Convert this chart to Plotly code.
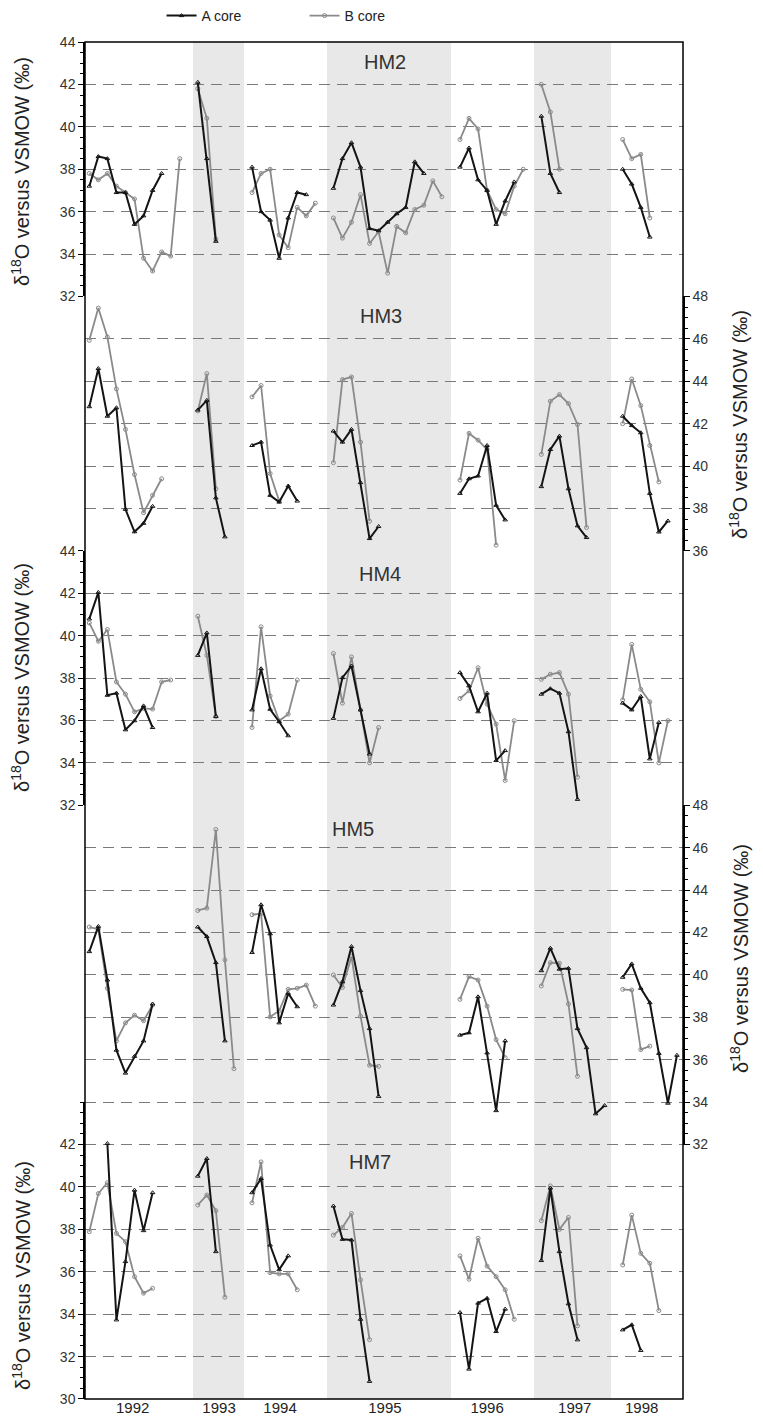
import plotly.graph_objects as go

# ---------------- data ----------------
YEARS = ["1992", "1993", "1994", "1995", "1996", "1997", "1998"]
YEAR_START = [0, 12, 18, 27, 41, 50, 59]          # first sample index of each year
YEAR_LABEL_POS = [4.8, 14.35, 21.1, 32.7, 44.0, 53.7, 61.1]
SHADED_YEARS = [(11.47, 17.11), (26.29, 40.01), (49.19, 57.71)]

HM2_A = [[37.2, 38.6, 38.5, 36.9, 36.9, 35.4, 35.8, 37.0, 37.8],
         [42.1, 38.5, 34.6],
         [38.1, 36.0, 35.6, 33.8, 35.7, 36.9, 36.8],
         [37.1, 38.5, 39.25, 38.1, 35.2, 35.1, 35.5, 35.9, 36.2, 38.35, 37.8],
         [38.1, 39.0, 37.5, 37.0, 35.4, 36.5, 37.4],
         [40.5, 37.8, 36.9],
         [38.0, 37.3, 36.2, 34.8]]
HM2_B = [[37.8, 37.5, 37.8, 37.2, 36.9, 36.6, 33.8, 33.2, 34.1, 33.9, 38.5],
         [41.8, 40.4, 34.7],
         [36.9, 37.8, 38.0, 34.9, 34.3, 36.2, 35.8, 36.4],
         [35.7, 34.75, 35.5, 36.8, 34.5, 35.05, 33.1, 35.3, 35.0, 36.1, 36.3, 37.45, 36.7],
         [39.4, 40.4, 39.9, 37.0, 36.1, 35.9, 37.2, 38.0],
         [42.0, 40.7, 38.0],
         [39.4, 38.5, 38.7, 35.7]]

HM3_A = [[42.8, 44.6, 42.35, 42.75, 37.96, 36.9, 37.3, 38.1],
         [42.64, 43.1, 38.5, 36.66],
         [40.97, 41.13, 38.62, 38.3, 39.06, 38.35],
         [41.65, 41.13, 41.73, 39.22, 36.58, 37.15],
         [38.71, 39.4, 39.53, 40.97, 38.15, 37.46],
         [39.03, 40.78, 41.41, 38.93, 37.18, 36.63],
         [42.35, 41.91, 41.57, 38.71, 36.89, 37.41]]
HM3_B = [[45.93, 47.45, 46.09, 43.64, 41.73, 39.6, 37.8, 38.62, 39.4],
         [42.6, 44.36, 38.93],
         [43.26, 43.8, 39.65, 38.35],
         [40.16, 44.08, 44.2, 41.13, 37.4],
         [39.34, 41.54, 41.22, 40.78, 36.27],
         [40.55, 43.06, 43.37, 42.95, 41.96, 37.1],
         [42.0, 44.11, 42.85, 40.97, 39.25]]

HM4_A = [[40.79, 42.04, 37.19, 37.29, 35.56, 35.99, 36.69, 35.67],
         [39.07, 40.13, 36.19],
         [36.5, 38.44, 36.53, 35.94, 35.28],
         [36.1, 38.02, 38.57, 36.5, 34.42],
         [38.26, 37.63, 36.41, 37.29, 34.11, 34.58],
         [37.24, 37.5, 37.29, 35.47, 32.28],
         [36.82, 36.5, 37.13, 34.19, 35.91]]
HM4_B = [[40.6, 39.74, 40.29, 37.82, 37.24, 36.41, 36.57, 36.54, 37.82, 37.91],
         [40.92, 39.07, 36.19],
         [35.67, 40.42, 37.16, 35.99, 36.3, 37.91],
         [39.16, 36.82, 39.0, 36.5, 34.0, 35.67],
         [37.04, 37.4, 38.49, 36.77, 35.83, 33.17, 35.99],
         [37.94, 38.18, 38.26, 37.24, 33.33],
         [36.97, 39.59, 37.47, 36.88, 34.0, 35.99]]

HM5_A = [[41.1, 42.29, 39.76, 36.45, 35.37, 36.16, 36.89, 38.63],
         [42.26, 41.81, 40.58, 36.89],
         [41.06, 43.31, 41.94, 37.74, 39.13, 38.5],
         [38.58, 39.68, 41.34, 39.26, 37.47, 34.27],
         [37.16, 37.27, 38.97, 36.32, 33.6, 36.89],
         [40.2, 41.26, 40.27, 40.31, 37.47, 36.57, 33.45, 33.84],
         [39.89, 40.52, 39.37, 38.69, 36.3, 33.95, 36.21]]
HM5_B = [[42.26, 42.16, 39.37, 36.89, 37.74, 38.1, 37.84, 38.58],
         [43.04, 43.15, 46.86, 40.71, 35.58],
         [42.84, 42.89, 38.02, 38.31, 39.32, 39.37, 39.52, 38.53],
         [40.0, 39.41, 40.87, 38.06, 35.74, 35.69],
         [38.85, 39.92, 39.76, 38.53, 36.95, 36.1],
         [39.48, 40.58, 40.55, 38.63, 35.22],
         [39.32, 39.29, 36.48, 36.64]]

HM7_A = [[None, None, 42.05, 33.73, 36.48, 39.85, 37.94, 39.73],
         [40.51, 41.34, 36.95],
         [39.73, 40.4, 37.26, 36.1, 36.75],
         [39.1, 37.53, 37.5, 33.76, 30.83],
         [34.08, 31.41, 34.52, 34.75, 33.18, 34.24],
         [36.53, 39.95, 36.95, 34.49, 32.79],
         [33.26, 33.5, 32.29]]
HM7_B = [[37.89, 39.69, 40.2, 37.81, 37.42, 35.77, 34.99, 35.22],
         [39.15, 39.62, 38.88, 34.8],
         [39.25, 41.18, 35.96, 35.9, 35.9, 35.15],
         [37.73, 38.09, 38.75, 35.62, 32.8],
         [36.75, 35.65, 37.58, 36.27, 35.77, 35.15, 33.76],
         [38.41, 40.05, 38.0, 38.56, 33.45],
         [36.32, 38.67, 36.87, 36.4, 34.17]]

PANEL_NAMES = ["HM2", "HM3", "HM4", "HM5", "HM7"]
PANEL_A = [HM2_A, HM3_A, HM4_A, HM5_A, HM7_A]
PANEL_B = [HM2_B, HM3_B, HM4_B, HM5_B, HM7_B]

# ---------------- helpers ----------------
def flatten(segments):
    xs, ys = [], []
    for start, seg in zip(YEAR_START, segments):
        for j, v in enumerate(seg):
            xs.append(start + j)
            ys.append(v)
        xs.append(None)
        ys.append(None)
    return xs, ys

FONT = "Liberation Sans, Arial, sans-serif"
A_COLOR = "#141414"
B_COLOR = "#8a8a8a"

fig = go.Figure()
axis_ids = ["y", "y2", "y3", "y4", "y5"]

for i, name in enumerate(PANEL_NAMES):
    xb, yb = flatten(PANEL_B[i])
    xa, ya = flatten(PANEL_A[i])
    fig.add_trace(go.Scatter(
        x=xb, y=yb, yaxis=axis_ids[i], xaxis="x", mode="lines+markers",
        name="B core", legendgroup="B", showlegend=(i == 0), legendrank=2,
        line=dict(color=B_COLOR, width=1.8),
        marker=dict(symbol="circle-open", size=4, color=B_COLOR, line=dict(width=1)),
        connectgaps=False, hoverinfo="skip"))
    fig.add_trace(go.Scatter(
        x=xa, y=ya, yaxis=axis_ids[i], xaxis="x", mode="lines+markers",
        name="A core", legendgroup="A", showlegend=(i == 0), legendrank=1,
        line=dict(color=A_COLOR, width=2),
        marker=dict(symbol="triangle-up-open", size=4, color=A_COLOR, line=dict(width=1)),
        connectgaps=False, hoverinfo="skip"))

GRID_DASH = "11px,7px"

def yax(domain, rng, tickvals, side):
    return dict(
        domain=domain, range=rng, anchor="x", side=side, automargin=False,
        tickmode="array", tickvals=tickvals, ticktext=[str(v) for v in tickvals],
        ticks="outside", ticklen=5, tickwidth=1, tickcolor="black",
        minor=dict(dtick=0.5, tick0=0, ticks="outside", ticklen=3,
                   tickcolor="black", tickwidth=1, showgrid=False),
        showgrid=True, gridcolor="#7a7a7a", griddash=GRID_DASH, gridwidth=1,
        showline=True, linecolor="black", linewidth=1.5,
        zeroline=False, fixedrange=True,
        tickfont=dict(family=FONT, size=14, color="#333"))

N = 32.0
PLOT_H = 1357.0
FIG_H = 1412
fig.update_layout(
    width=755, height=FIG_H,
    margin=dict(l=77, r=80, t=34, b=21),
    paper_bgcolor="white", plot_bgcolor="rgba(0,0,0,0)",
    font=dict(family=FONT, color="#222"),
    xaxis=dict(domain=[0, 1], range=[-0.476, 65.67], anchor="y5", automargin=False,
               tickmode="array", tickvals=YEAR_LABEL_POS, ticktext=YEARS,
               ticks="", showgrid=False, showline=False, zeroline=False,
               ticklabelstandoff=-2,
               fixedrange=True, tickfont=dict(family=FONT, size=15, color="#222")),
    yaxis=yax([26 / N, 1.0], [32, 44], [32, 34, 36, 38, 40, 42, 44], "left"),
    yaxis2=yax([20 / N, 26 / N], [36, 48], [36, 38, 40, 42, 44, 46, 48], "right"),
    yaxis3=yax([14 / N, 20 / N], [32, 44], [32, 34, 36, 38, 40, 42, 44], "left"),
    yaxis4=yax([6 / N, 14 / N], [32, 48], [32, 34, 36, 38, 40, 42, 44, 46, 48], "right"),
    yaxis5=yax([0.0, 7 / N], [30, 44], [30, 32, 34, 36, 38, 40, 42], "left"),
    legend=dict(orientation="h", x=0.128, xanchor="left",
                yref="container", y=1 - 8 / FIG_H, yanchor="middle",
                font=dict(family=FONT, size=14, color="#222"),
                entrywidth=98, entrywidthmode="pixels",
                bgcolor="rgba(0,0,0,0)", traceorder="normal"),
    showlegend=True,
)

shapes = []
for x0, x1 in SHADED_YEARS:
    shapes.append(dict(type="rect", xref="x", yref="paper", x0=x0, x1=x1, y0=0, y1=1,
                       fillcolor="#e8e8e8", line=dict(width=0), layer="below"))
shapes.append(dict(type="rect", xref="paper", yref="paper", x0=0, x1=1, y0=0, y1=1,
                   line=dict(color="black", width=1.5), fillcolor="rgba(0,0,0,0)",
                   layer="above"))
fig.update_layout(shapes=shapes)

annotations = []
# panel labels (positioned in each panel's own data coordinates)
label_pos = [(32.7, 43.07, "y"), (32.3, 47.08, "y2"), (32.2, 42.9, "y3"),
             (29.2, 46.9, "y4"), (31.05, 41.16, "y5")]
for name, (lx, ly, yr) in zip(PANEL_NAMES, label_pos):
    annotations.append(dict(text=name, x=lx, y=ly, xref="x", yref=yr, showarrow=False,
                            font=dict(family=FONT, size=20, color="#333"),
                            xanchor="center", yanchor="middle"))

TITLE = "\u03b4<sup>18</sup>O versus VSMOW (\u2030)"
title_pos = [(-0.107, (1399 - 172) / PLOT_H), (-0.107, (1399 - 678) / PLOT_H),
             (-0.107, (1399 - 1276) / PLOT_H), (1.0936, (1399 - 424) / PLOT_H),
             (1.0936, (1399 - 958) / PLOT_H)]
for tx, ty in title_pos:
    annotations.append(dict(text=TITLE, x=tx, y=ty, xref="paper", yref="paper",
                            showarrow=False, textangle=-90,
                            font=dict(family=FONT, size=20, color="#222"),
                            xanchor="center", yanchor="middle"))
fig.update_layout(annotations=annotations)

fig.write_html("out.html")
